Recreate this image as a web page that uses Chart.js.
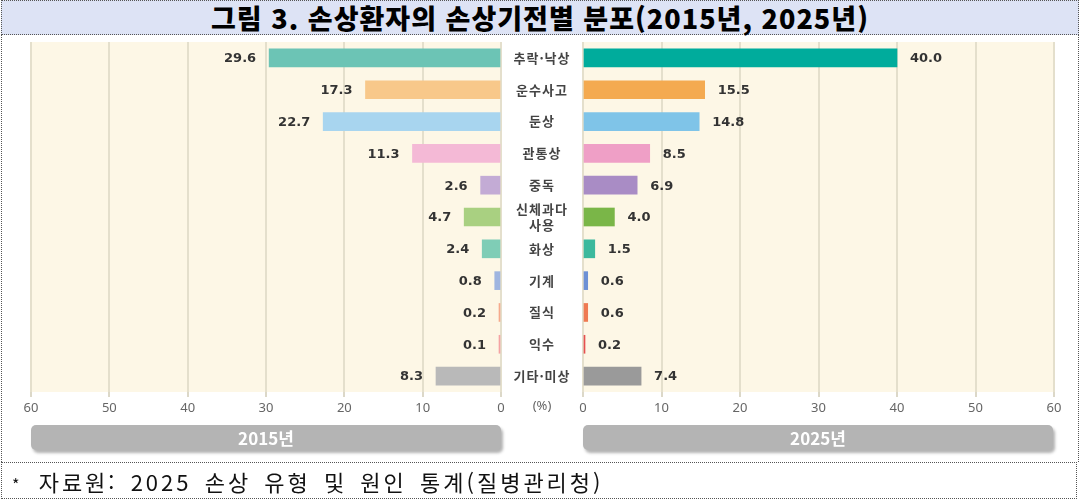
<!DOCTYPE html>
<html lang="ko">
<head>
<meta charset="utf-8">
<script src="https://cdn.jsdelivr.net/npm/chart.js@4.4.1/dist/chart.umd.min.js"></script>
<style>
  html, body { margin: 0; padding: 0; background: #fff; }
  #frame { position: relative; width: 1080px; height: 501px; overflow: hidden; font-family: "Noto Sans CJK KR", sans-serif; }
  #title {
    position: absolute; left: 1px; top: 0; width: 1076px; height: 33px;
    background: #dde3f5; border: 1px dotted #555; border-bottom: 1px dotted #555;
    text-align: center; line-height: 33px;
  }
  #title span { display: inline-block; font-size: 27px; font-weight: 900; color: #000; letter-spacing: 1px; }
  #body {
    position: absolute; left: 1px; top: 35px; width: 1076px; height: 427px;
    border-left: 1px dotted #555; border-right: 1px dotted #555;
  }
  canvas { position: absolute; top: 35px; }
  #leftChart { left: 0; }
  #rightChart { left: 501px; }
  .pill {
    position: absolute; top: 425px; width: 470px; height: 25px; border-radius: 5px;
    background: #b4b4b4; color: #fff; font-weight: 700; font-size: 17px;
    text-align: center; line-height: 25px; box-shadow: 2px 3px 3px rgba(0,0,0,0.3);
  }
  #source {
    position: absolute; left: 1px; top: 462px; width: 1076px; height: 37px;
    border: 1px dotted #555; line-height: 37px; padding-left: 10px; box-sizing: border-box;
    font-size: 22px; color: #111; letter-spacing: 3px; word-spacing: 4px;
  }
  #source .star { font-size: 16px; letter-spacing: 6px; }
</style>
</head>
<body>
<div id="frame">
  <div id="title"><span>그림 3. 손상환자의 손상기전별 분포(2015년, 2025년)</span></div>
  <div id="body"></div>
  <canvas id="leftChart" width="520" height="390"></canvas>
  <canvas id="rightChart" width="579" height="390"></canvas>
  <div class="pill" style="left:31px">2015년</div>
  <div class="pill" style="left:583px">2025년</div>
  <div id="source"><span class="star">*</span> 자료원: 2025 손상 유형 및 원인 통계(질병관리청)</div>
</div>
<script>
const categories = ['추락·낙상', '운수사고', '둔상', '관통상', '중독', ['신체과다', '사용'], '화상', '기계', '질식', '익수', '기타·미상'];
const values2015 = [29.6, 17.3, 22.7, 11.3, 2.6, 4.7, 2.4, 0.8, 0.2, 0.1, 8.3];
const values2025 = [40.0, 15.5, 14.8, 8.5, 6.9, 4.0, 1.5, 0.6, 0.6, 0.2, 7.4];
const colors2015 = ['#6cc4b5', '#f8c88a', '#a8d5ef', '#f4b9d6', '#c3abd5', '#a9d081', '#7fcdb6', '#9fb5e0', '#f6aa8c', '#f5a3a3', '#b9b9b9'];
const colors2025 = ['#00ac9c', '#f4aa50', '#7fc4e8', '#ef9fc6', '#a98cc5', '#7ab648', '#3cb99d', '#6c90d5', '#ef7a52', '#e65050', '#9a9a9a'];
const xTicks = [0, 10, 20, 30, 40, 50, 60];

const tickFont = { family: '"Noto Sans", sans-serif', size: 13 };
const valueFont = 'bold 13px "DejaVu Sans", sans-serif';
const catFont = 'bold 13px "Noto Sans CJK KR", sans-serif';

// cream plot background
const creamBg = {
    id: 'creamBg',
    beforeDraw(chart) {
        const a = chart.chartArea;
        const ctx = chart.ctx;
        ctx.save();
        ctx.fillStyle = '#fdf7e6';
        ctx.fillRect(a.left, a.top, a.right - a.left, a.bottom - a.top);
        ctx.restore();
    }
};

// value labels at bar ends
const valueLabels = {
    id: 'valueLabels',
    afterDatasetsDraw(chart, args, opts) {
        const ctx = chart.ctx;
        const meta = chart.getDatasetMeta(0);
        const data = chart.data.datasets[0].data;
        ctx.save();
        ctx.font = valueFont;
        ctx.fillStyle = '#333';
        ctx.textBaseline = 'middle';
        ctx.textAlign = opts.side === 'left' ? 'right' : 'left';
        meta.data.forEach((bar, i) => {
            const x = opts.side === 'left' ? bar.x - 13 : bar.x + 13;
            ctx.fillText(data[i].toFixed(1), x, bar.y + 1);
        });
        ctx.restore();
    }
};

// category names in the middle column + (%) unit
const centerLabels = {
    id: 'centerLabels',
    afterDraw(chart) {
        const ctx = chart.ctx;
        const yScale = chart.scales.y;
        const xScale = chart.scales.x;
        const cx = yScale.left + yScale.width / 2;
        ctx.save();
        ctx.font = catFont;
        ctx.letterSpacing = '1px';
        ctx.fillStyle = '#444';
        ctx.textAlign = 'center';
        ctx.textBaseline = 'middle';
        chart.data.labels.forEach((lab, i) => {
            const y = yScale.getPixelForValue(i);
            if (Array.isArray(lab)) {
                ctx.fillText(lab[0], cx, y - 8);
                ctx.fillText(lab[1], cx, y + 8);
            } else {
                ctx.fillText(lab, cx, y);
            }
        });
        ctx.letterSpacing = '0px';
        ctx.font = '13px "Noto Sans", sans-serif';
        ctx.fillStyle = '#666';
        ctx.fillText('(%)', cx, xScale.top + 14);
        ctx.restore();
    }
};

function xScaleOptions(reverse) {
    return {
        reverse: reverse,
        min: 0,
        max: 60,
        afterBuildTicks: s => { s.ticks = xTicks.map(v => ({ value: v })); },
        ticks: { color: '#666', font: tickFont, padding: 3 },
        grid: { color: '#e4dfcc', lineWidth: 2, tickLength: 5, tickColor: '#dcd8c8' },
        border: { display: false },
        afterFit: s => { s.height = 33; }
    };
}

new Chart(document.getElementById('leftChart'), {
    type: 'bar',
    data: {
        labels: categories,
        datasets: [{ data: values2015, backgroundColor: colors2015, barThickness: 18, minBarLength: 2 }]
    },
    options: {
        responsive: false,
        animation: false,
        indexAxis: 'y',
        layout: { padding: { left: 31, right: 19, top: 7, bottom: 0 } },
        plugins: { legend: { display: false }, tooltip: { enabled: false }, valueLabels: { side: 'left' } },
        scales: {
            x: xScaleOptions(true),
            y: { display: false }
        }
    },
    plugins: [creamBg, valueLabels]
});

new Chart(document.getElementById('rightChart'), {
    type: 'bar',
    data: {
        labels: categories,
        datasets: [{ data: values2025, backgroundColor: colors2025, barThickness: 18, minBarLength: 2 }]
    },
    options: {
        responsive: false,
        animation: false,
        indexAxis: 'y',
        layout: { padding: { left: 0, right: 26, top: 7, bottom: 0 } },
        plugins: { legend: { display: false }, tooltip: { enabled: false }, valueLabels: { side: 'right' } },
        scales: {
            x: xScaleOptions(false),
            y: {
                position: 'left',
                ticks: { display: false },
                grid: { display: false },
                border: { display: false },
                afterFit: s => { s.width = 82; }
            }
        }
    },
    plugins: [creamBg, valueLabels, centerLabels]
});
</script>
</body>
</html>
